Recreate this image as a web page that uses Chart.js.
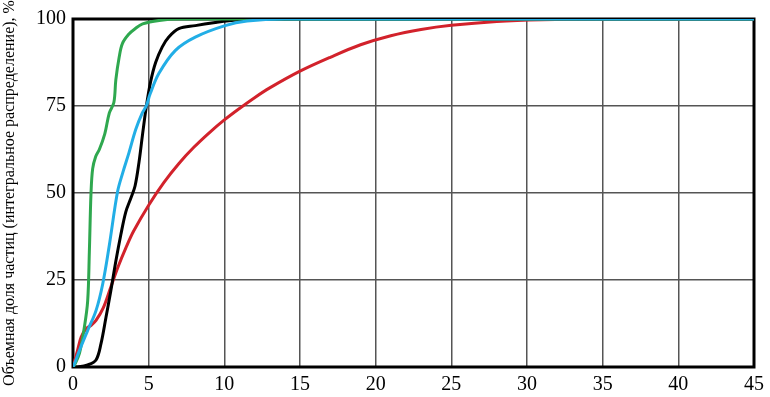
<!DOCTYPE html>
<html>
<head>
<meta charset="utf-8">
<script src="https://cdn.jsdelivr.net/npm/chart.js@4/dist/chart.umd.min.js"></script>
<style>
  html, body { margin: 0; padding: 0; background: #fff; }
  #wrap { width: 770px; height: 397px; }
</style>
</head>
<body>
<div id="wrap"><canvas id="chart" width="770" height="397"></canvas></div>
<script>
/* particle size distribution curves */
const xTicks = [0, 5, 10, 15, 20, 25, 30, 35, 40, 45];
const yTicks = [0, 25, 50, 75, 100];
const yTitle = 'Объемная доля частиц (интегральное распределение), %';

const greenX = [0, 0.1, 0.43, 0.75, 0.97, 1.08, 1.19, 1.3, 1.5, 1.74, 2.1, 2.4, 2.7, 2.83, 3.05, 3.27, 3.7, 4.1, 4.6, 5.7, 7, 45];
const greenY = [0, 0.6, 4, 11.4, 19, 33, 50, 57, 60.5, 62.5, 67, 73, 76, 82.5, 89, 93, 95.7, 97.2, 98.6, 99.6, 100, 100];

const blueX = [0, 0.1, 0.43, 0.97, 1.52, 1.96, 2.4, 2.94, 3.3, 3.7, 4.15, 4.58, 4.85, 5.1, 5.68, 6.77, 8.08, 10.05, 11.5, 14, 45];
const blueY = [0, 1, 4.8, 10.5, 16.2, 23.8, 35, 50.3, 56, 61.6, 68.3, 73, 75.1, 78.5, 84.4, 91, 94.8, 98.1, 99.4, 100, 100];

const blackX = [0, 0.3, 0.97, 1.52, 1.85, 2.18, 2.5, 2.83, 3.16, 3.49, 3.82, 4.1, 4.36, 4.6, 4.85, 5.13, 5.46, 5.9, 6.33, 6.99, 8.08, 9.4, 10.3, 12, 45];
const blackY = [0, 0, 0.6, 2, 6.7, 14.3, 21.9, 30.4, 38, 44.6, 48.5, 52, 58.8, 67, 75, 82, 87.5, 92, 94.8, 97.2, 98.1, 99, 99.5, 100, 100];

const redX = [0, 0.3, 0.54, 0.87, 1.2, 1.52, 2, 2.5, 3, 3.5, 4, 5, 6, 7, 8, 9, 10, 11, 12, 13, 15, 17, 19, 21, 23, 25, 28, 31, 35, 45];
const redY = [0, 4.8, 8.6, 11, 12, 13.4, 17, 23, 29, 34.3, 39, 46.5, 53, 58.5, 63.2, 67.3, 71, 74.3, 77.4, 80.2, 85, 89, 92.6, 95.2, 97, 98.2, 99.3, 99.8, 100, 100];

function toPoints(xs, ys) {
  return xs.map((x, i) => ({ x: x, y: ys[i] }));
}

const AREA = { left: 73, top: 15, right: 760, bottom: 367 };
const serif = '"Liberation Serif", "Times New Roman", serif';

// black frame round the plot, drawn under the curves
const framePlugin = {
  id: 'frame',
  beforeDatasetsDraw(chart) {
    const { ctx, chartArea: a } = chart;
    ctx.save();
    ctx.strokeStyle = '#000';
    ctx.lineWidth = 3;
    ctx.strokeRect(a.left, a.top, a.right - a.left, a.bottom - a.top);
    ctx.restore();
  }
};

function line(data, color) {
  return {
    data: data,
    borderColor: color,
    borderWidth: 3,
    pointRadius: 0,
    showLine: true,
    fill: false,
    tension: 0.35
  };
}

new Chart(document.getElementById('chart'), {
  type: 'scatter',
  data: {
    datasets: [
      line(toPoints(blueX, blueY), '#22aee6'),
      line(toPoints(greenX, greenY), '#2fa84f'),
      line(toPoints(blackX, blackY), '#000000'),
      line(toPoints(redX, redY), '#d2222b')
    ]
  },
  options: {
    responsive: false,
    animation: false,
    layout: { padding: { top: AREA.top, right: 770 - AREA.right, left: 0, bottom: 0 } },
    plugins: { legend: { display: false }, tooltip: { enabled: false } },
    scales: {
      x: {
        type: 'linear',
        min: 0, max: 45,
        afterBuildTicks: s => { s.ticks = xTicks.map(v => ({ value: v })); },
        afterFit: s => { s.height = 397 - AREA.bottom; },
        grid: { color: '#555', lineWidth: 1.5, drawTicks: false },
        border: { display: false },
        ticks: { color: '#000', padding: 6, maxRotation: 0, font: { family: serif, size: 20 } }
      },
      y: {
        min: 0, max: 100,
        afterBuildTicks: s => { s.ticks = yTicks.map(v => ({ value: v })); },
        afterFit: s => { s.width = AREA.left; },
        grid: { color: '#555', lineWidth: 1.5, drawTicks: false },
        border: { display: false },
        title: { display: true, text: yTitle, color: '#000', padding: 0, font: { family: serif, size: 16 } },
        ticks: { color: '#000', padding: 7, font: { family: serif, size: 20 } }
      }
    }
  },
  plugins: [framePlugin]
});
</script>
</body>
</html>
